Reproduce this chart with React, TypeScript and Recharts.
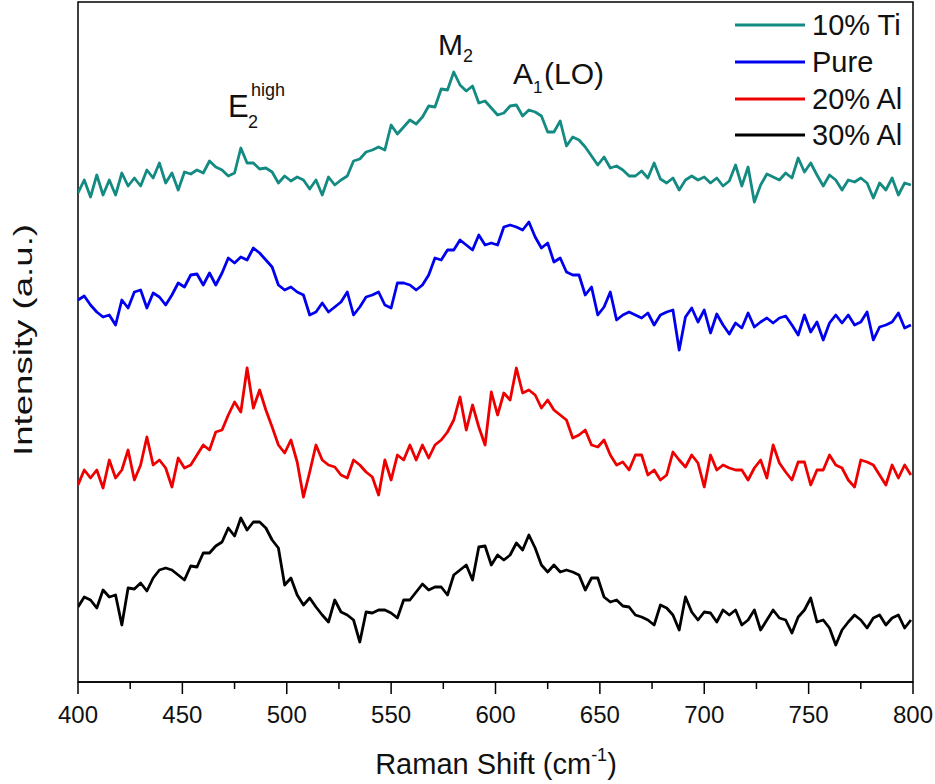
import React from 'react';
import { LineChart, Line, XAxis, YAxis, ReferenceArea, Customized } from 'recharts';

const FONT = '"Liberation Sans", Arial, Helvetica, sans-serif';

// Raman shift grid (cm-1)
const ramanShift = [
  400, 403, 406, 409, 412, 415, 418, 421, 424, 427, 430, 433, 436, 439, 442, 445, 448, 451, 454, 457,
  460, 463, 466, 469, 472, 475, 478, 481, 484, 487, 490, 493, 496, 499, 502, 505, 508, 511, 514, 517,
  520, 523, 526, 529, 532, 535, 538, 541, 544, 547, 550, 553, 556, 559, 562, 565, 568, 571, 574, 577,
  580, 583, 586, 589, 592, 595, 598, 601, 604, 607, 610, 613, 616, 619, 622, 625, 628, 631, 634, 637,
  640, 643, 646, 649, 652, 655, 658, 661, 664, 667, 670, 673, 676, 679, 682, 685, 688, 691, 694, 697,
  700, 703, 706, 709, 712, 715, 718, 721, 724, 727, 730, 733, 736, 739, 742, 745, 748, 751, 754, 757,
  760, 763, 766, 769, 772, 775, 778, 781, 784, 787, 790, 793, 796, 799,
];

// stacked intensities (a.u.), offsets included as plotted
const ti10 = [
  489, 502, 485, 507, 487, 502, 487, 509, 496, 504, 496, 512, 504, 519, 499, 509, 492, 510, 508, 512,
  509, 521, 515, 512, 506, 509, 534, 519, 519, 513, 514, 510, 499, 506, 501, 505, 502, 493, 502, 487,
  505, 497, 502, 506, 521, 523, 530, 532, 535, 532, 557, 548, 555, 562, 558, 565, 576, 575, 593, 592,
  610, 597, 591, 596, 579, 581, 574, 567, 569, 576, 577, 566, 572, 570, 566, 550, 550, 561, 536, 545,
  542, 535, 526, 517, 525, 514, 516, 512, 506, 506, 511, 504, 519, 503, 499, 504, 492, 502, 506, 502,
  505, 499, 504, 496, 501, 517, 496, 515, 480, 497, 508, 505, 502, 509, 504, 524, 510, 519, 507, 496,
  507, 502, 492, 502, 500, 504, 499, 484, 499, 492, 504, 487, 499, 497,
];

const pure = [
  382, 386, 377, 370, 365, 367, 357, 382, 374, 390, 392, 374, 389, 385, 377, 387, 399, 395, 407, 408,
  397, 409, 397, 409, 424, 419, 425, 422, 434, 429, 422, 415, 397, 392, 395, 390, 387, 367, 370, 379,
  370, 375, 380, 390, 367, 375, 385, 387, 390, 377, 374, 399, 399, 397, 392, 397, 407, 424, 422, 432,
  432, 442, 437, 432, 447, 437, 439, 437, 455, 457, 455, 452, 460, 445, 434, 439, 420, 424, 410, 407,
  407, 387, 395, 367, 375, 390, 362, 367, 370, 367, 364, 369, 357, 367, 370, 372, 332, 365, 374, 360,
  372, 349, 368, 357, 348, 359, 354, 369, 355, 360, 364, 359, 364, 366, 357, 347, 367, 350, 360, 342,
  359, 367, 359, 367, 357, 360, 370, 342, 355, 357, 360, 369, 354, 357,
];

const al20 = [
  197, 212, 204, 212, 194, 222, 204, 212, 232, 202, 217, 245, 217, 222, 214, 195, 224, 214, 217, 227,
  237, 232, 250, 252, 267, 280, 270, 314, 274, 292, 272, 255, 237, 229, 242, 220, 185, 210, 237, 222,
  217, 215, 207, 204, 222, 217, 210, 205, 187, 222, 202, 227, 222, 237, 222, 237, 224, 237, 242, 250,
  262, 285, 252, 277, 255, 237, 290, 267, 289, 282, 314, 289, 292, 287, 274, 282, 272, 267, 262, 244,
  247, 252, 237, 235, 242, 227, 217, 220, 212, 227, 227, 207, 212, 202, 207, 230, 222, 215, 227, 219,
  195, 227, 212, 217, 214, 212, 212, 202, 214, 222, 204, 237, 219, 210, 202, 220, 220, 197, 212, 212,
  227, 217, 214, 202, 195, 222, 220, 217, 207, 197, 217, 204, 217, 207,
];

const al30 = [
  75, 85, 82, 74, 92, 85, 87, 57, 94, 93, 99, 91, 104, 112, 114, 112, 107, 102, 116, 115,
  129, 129, 136, 140, 154, 146, 164, 152, 160, 160, 154, 142, 134, 97, 104, 87, 77, 84, 75, 67,
  60, 82, 70, 67, 62, 40, 70, 69, 72, 72, 69, 64, 82, 82, 90, 98, 92, 95, 95, 87,
  107, 112, 117, 102, 135, 136, 117, 127, 122, 127, 139, 132, 147, 134, 117, 110, 117, 110, 112, 110,
  107, 92, 104, 104, 85, 80, 82, 76, 75, 67, 65, 62, 57, 77, 74, 67, 52, 85, 70, 62,
  70, 69, 60, 72, 67, 72, 57, 62, 72, 52, 62, 72, 64, 62, 49, 65, 72, 84, 60, 62,
  54, 37, 52, 60, 67, 62, 54, 64, 67, 57, 64, 67, 54, 62,
];

const xTicks = [400, 425, 450, 475, 500, 525, 550, 575, 600, 625, 650, 675, 700, 725, 750, 775, 800];

const series = [
  { key: 'ti10', name: '10% Ti', color: '#138a82' },
  { key: 'pure', name: 'Pure', color: '#0000ee' },
  { key: 'al20', name: '20% Al', color: '#ee0000' },
  { key: 'al30', name: '30% Al', color: '#000000' },
];

const chartData = ramanShift.map((x, i) => ({
  x,
  ti10: ti10[i],
  pure: pure[i],
  al20: al20[i],
  al30: al30[i],
}));

const ShiftTick = (props: any) => {
  const { x, y, payload } = props;
  const major = payload.value % 50 === 0;
  return (
    <g>
      <line x1={x} x2={x} y1={y} y2={y + (major ? 12 : 7)} stroke="#000" strokeWidth={1.5} />
      {major && (
        <text x={x} y={y + 41} textAnchor="middle" fontSize={24} fontFamily={FONT} fill="#111">
          {payload.value}
        </text>
      )}
    </g>
  );
};

// titles, peak labels and legend
const Overlay = () => {
  const rowY = [25, 62, 99, 135];
  return (
    <g fontFamily={FONT} fill="#111">
      <text x={228} y={117} fontSize={31}>E</text>
      <text x={248} y={128} fontSize={18}>2</text>
      <text x={251} y={96} fontSize={18}>high</text>

      <text x={438} y={55} fontSize={30}>M</text>
      <text x={463} y={62} fontSize={18}>2</text>

      <text x={513} y={84} fontSize={30}>A</text>
      <text x={533} y={93} fontSize={17}>1</text>
      <text x={544} y={84} fontSize={30}>(LO)</text>

      <text x={496} y={774} fontSize={29} textAnchor="middle">
        Raman Shift (cm
        <tspan fontSize={18} dy={-13}>-1</tspan>
        <tspan dy={13}>)</tspan>
      </text>
      <text
        transform="translate(32, 340) rotate(-90)"
        fontSize={26}
        textAnchor="middle"
        textLength={232}
        lengthAdjust="spacingAndGlyphs"
      >
        Intensity (a.u.)
      </text>

      {series.map((s, i) => (
        <g key={s.key}>
          <line x1={735} x2={805} y1={rowY[i]} y2={rowY[i]} stroke={s.color} strokeWidth={2.8} />
          <text x={812} y={rowY[i] + 10} fontSize={29}>{s.name}</text>
        </g>
      ))}
    </g>
  );
};

export default function App() {
  return (
    <div style={{ position: 'absolute', left: 0, top: 0, width: 935, height: 784, background: '#fff' }}>
      <LineChart
        width={935}
        height={784}
        data={chartData}
        margin={{ top: 2, right: 22, left: 78, bottom: 42 }}
      >
        <XAxis
          dataKey="x"
          type="number"
          domain={[400, 800]}
          ticks={xTicks}
          interval={0}
          tick={<ShiftTick />}
          tickSize={0}
          tickMargin={0}
          tickLine={false}
          axisLine={{ stroke: '#000', strokeWidth: 1.5 }}
          height={60}
          allowDataOverflow
        />
        <YAxis hide type="number" domain={[0, 680]} allowDataOverflow />
        <ReferenceArea
          x1={400}
          x2={800}
          y1={0}
          y2={680}
          fill="#fff"
          fillOpacity={0}
          stroke="#000"
          strokeWidth={1.5}
        />
        {series.map((s) => (
          <Line
            key={s.key}
            type="linear"
            dataKey={s.key}
            name={s.name}
            stroke={s.color}
            strokeWidth={2.8}
            strokeLinejoin="round"
            dot={false}
            isAnimationActive={false}
          />
        ))}
        <Customized component={<Overlay />} />
      </LineChart>
    </div>
  );
}
